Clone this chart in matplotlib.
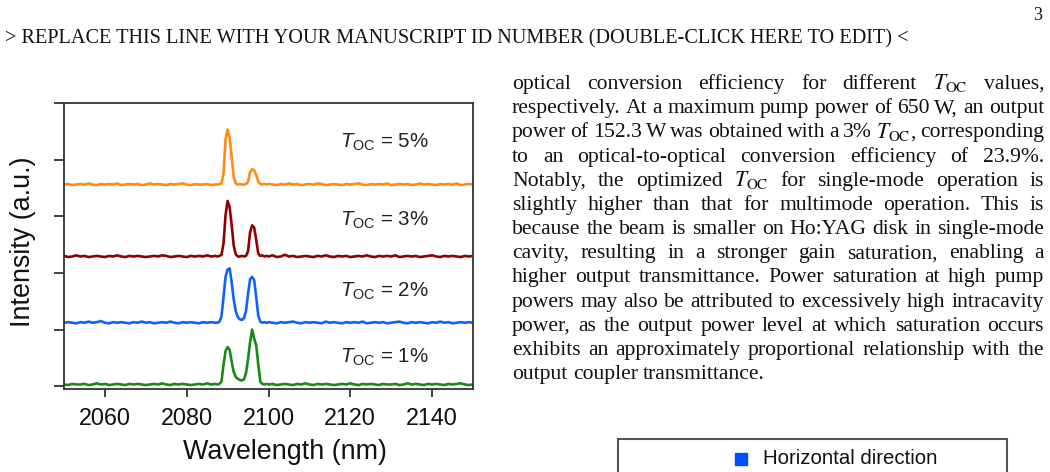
import matplotlib.pyplot as plt
from matplotlib.lines import Line2D
from matplotlib.patches import Rectangle

plt.rcParams['font.family'] = ['Liberation Sans', 'DejaVu Sans']
plt.rcParams['mathtext.fontset'] = 'custom'
plt.rcParams['mathtext.rm'] = 'Liberation Sans'
plt.rcParams['mathtext.it'] = 'Liberation Sans:italic'

# wavelength samples (nm): 1 nm on the flat baseline, 0.5 nm across the peaks
wl_left = [2050, 2051, 2052, 2053, 2054, 2055, 2056, 2057, 2058, 2059,
           2060, 2061, 2062, 2063, 2064, 2065, 2066, 2067, 2068, 2069,
           2070, 2071, 2072, 2073, 2074, 2075, 2076, 2077, 2078, 2079,
           2080, 2081, 2082, 2083, 2084, 2085, 2086, 2087]
wl_peak = [2087.5, 2088, 2088.5, 2089, 2089.5, 2090, 2090.5, 2091, 2091.5, 2092,
           2092.5, 2093, 2093.5, 2094, 2094.5, 2095, 2095.5, 2096, 2096.5, 2097,
           2097.5, 2098, 2098.5, 2099, 2099.5]
wl_right = [2100, 2101, 2102, 2103, 2104, 2105, 2106, 2107, 2108, 2109,
            2110, 2111, 2112, 2113, 2114, 2115, 2116, 2117, 2118, 2119,
            2120, 2121, 2122, 2123, 2124, 2125, 2126, 2127, 2128, 2129,
            2130, 2131, 2132, 2133, 2134, 2135, 2136, 2137, 2138, 2139,
            2140, 2141, 2142, 2143, 2144, 2145, 2146, 2147, 2148, 2149,
            2150]
wavelength = wl_left + wl_peak + wl_right

# intensity above each trace's own baseline (a.u.)
toc5_left = [0.01, 0.02, 0.00, 0.01, 0.02, 0.01, 0.03, 0.01, 0.00, 0.02,
             0.01, 0.02, 0.01, 0.03, 0.00, 0.01, 0.02, 0.01, 0.02, 0.00,
             0.01, 0.03, 0.01, 0.02, 0.01, 0.00, 0.02, 0.01, 0.02, 0.03,
             0.01, 0.00, 0.02, 0.01, 0.01, 0.02, 0.00, 0.01]
toc5_peak = [0.01, 0.02, 0.03, 0.20, 0.80, 0.98, 0.84, 0.50, 0.14, 0.03,
             0.01, 0.02, 0.01, 0.01, 0.02, 0.06, 0.23, 0.28, 0.26, 0.18,
             0.06, 0.02, 0.01, 0.02, 0.01]
toc5_right = [0.02, 0.01, 0.00, 0.02, 0.01, 0.03, 0.01, 0.02, 0.00, 0.01,
              0.02, 0.01, 0.03, 0.02, 0.00, 0.01, 0.02, 0.01, 0.00, 0.02,
              0.01, 0.02, 0.03, 0.01, 0.00, 0.02, 0.01, 0.02, 0.01, 0.03,
              0.00, 0.01, 0.02, 0.01, 0.02, 0.00, 0.01, 0.03, 0.01, 0.02,
              0.01, 0.00, 0.02, 0.01, 0.02, 0.01, 0.03, 0.00, 0.01, 0.02,
              0.01]

toc3_left = [0.02, 0.00, 0.01, 0.03, 0.01, 0.02, 0.00, 0.01, 0.02, 0.01,
             0.00, 0.02, 0.01, 0.03, 0.01, 0.00, 0.02, 0.01, 0.02, 0.01,
             0.00, 0.01, 0.02, 0.01, 0.03, 0.02, 0.00, 0.01, 0.02, 0.01,
             0.00, 0.02, 0.01, 0.02, 0.01, 0.03, 0.01, 0.02]
toc3_peak = [0.01, 0.02, 0.04, 0.24, 0.74, 0.99, 0.88, 0.56, 0.20, 0.05,
             0.01, 0.01, 0.02, 0.01, 0.02, 0.10, 0.44, 0.56, 0.52, 0.30,
             0.06, 0.02, 0.03, 0.01, 0.02]
toc3_right = [0.01, 0.03, 0.00, 0.01, 0.04, 0.01, 0.02, 0.00, 0.01, 0.02,
              0.01, 0.00, 0.02, 0.01, 0.03, 0.01, 0.00, 0.02, 0.01, 0.02,
              0.00, 0.01, 0.02, 0.01, 0.03, 0.01, 0.00, 0.02, 0.01, 0.02,
              0.01, 0.03, 0.00, 0.01, 0.02, 0.01, 0.02, 0.00, 0.01, 0.02,
              0.03, 0.01, 0.00, 0.02, 0.01, 0.02, 0.01, 0.00, 0.02, 0.01,
              0.02]

toc2_left = [0.01, 0.02, 0.01, 0.00, 0.02, 0.01, 0.03, 0.01, 0.02, 0.04,
             0.01, 0.00, 0.02, 0.01, 0.02, 0.01, 0.00, 0.02, 0.01, 0.03,
             0.01, 0.02, 0.00, 0.01, 0.02, 0.01, 0.03, 0.01, 0.00, 0.02,
             0.01, 0.02, 0.01, 0.00, 0.02, 0.01, 0.02, 0.01]
toc2_peak = [0.01, 0.03, 0.12, 0.46, 0.82, 0.95, 0.97, 0.72, 0.42, 0.21,
             0.11, 0.07, 0.06, 0.09, 0.22, 0.52, 0.78, 0.82, 0.76, 0.46,
             0.13, 0.03, 0.01, 0.02, 0.01]
toc2_right = [0.02, 0.01, 0.00, 0.02, 0.01, 0.02, 0.03, 0.01, 0.00, 0.02,
              0.01, 0.02, 0.01, 0.00, 0.03, 0.01, 0.02, 0.01, 0.00, 0.02,
              0.01, 0.02, 0.01, 0.03, 0.00, 0.01, 0.02, 0.01, 0.02, 0.00,
              0.01, 0.02, 0.03, 0.01, 0.00, 0.02, 0.01, 0.02, 0.01, 0.00,
              0.02, 0.01, 0.03, 0.01, 0.02, 0.00, 0.01, 0.02, 0.01, 0.02,
              0.01]

toc1_left = [0.01, 0.00, 0.02, 0.01, 0.01, 0.02, 0.00, 0.01, 0.03, 0.01,
             0.02, 0.00, 0.01, 0.02, 0.01, 0.00, 0.02, 0.01, 0.02, 0.01,
             0.00, 0.01, 0.02, 0.01, 0.03, 0.01, 0.00, 0.02, 0.01, 0.02,
             0.01, 0.00, 0.01, 0.02, 0.01, 0.03, 0.01, 0.02]
toc1_peak = [0.01, 0.02, 0.06, 0.36, 0.60, 0.67, 0.62, 0.41, 0.23, 0.14,
             0.11, 0.09, 0.08, 0.10, 0.21, 0.46, 0.76, 0.98, 0.82, 0.70,
             0.36, 0.06, 0.02, 0.01, 0.02]
toc1_right = [0.01, 0.02, 0.00, 0.01, 0.02, 0.01, 0.00, 0.02, 0.01, 0.03,
              0.01, 0.00, 0.02, 0.01, 0.02, 0.01, 0.00, 0.01, 0.02, 0.01,
              0.03, 0.01, 0.00, 0.02, 0.01, 0.02, 0.01, 0.00, 0.02, 0.01,
              0.01, 0.02, 0.00, 0.01, 0.03, 0.01, 0.02, 0.01, 0.00, 0.02,
              0.01, 0.02, 0.01, 0.00, 0.02, 0.01, 0.02, 0.03, 0.01, 0.00,
              0.01]

spectra = [toc1_left + toc1_peak + toc1_right,
           toc2_left + toc2_peak + toc2_right,
           toc3_left + toc3_peak + toc3_right,
           toc5_left + toc5_peak + toc5_right]
offsets = [0.02, 1.11, 2.28, 3.55]
labels = ['1%', '2%', '3%', '5%']
label_y = [0.41, 1.58, 2.83, 4.21]
colors = ['#178a17', '#0f62fe', '#8f0000', '#ff8c10']

x_ticks = [2060, 2080, 2100, 2120, 2140]

header = '> REPLACE THIS LINE WITH YOUR MANUSCRIPT ID NUMBER (DOUBLE-CLICK HERE TO EDIT) <'
para_lines = [
    'optical conversion efficiency for different $T_\\mathrm{OC}$ values,',
    'respectively. At a maximum pump power of 650 W, an output',
    'power of 152.3 W was obtained with a 3% $T_\\mathrm{OC}$, corresponding',
    'to an optical-to-optical conversion efficiency of 23.9%.',
    'Notably, the optimized $T_\\mathrm{OC}$ for single-mode operation is',
    'slightly higher than that for multimode operation. This is',
    'because the beam is smaller on Ho:YAG disk in single-mode',
    'cavity, resulting in a stronger gain saturation, enabling a',
    'higher output transmittance. Power saturation at high pump',
    'powers may also be attributed to excessively high intracavity',
    'power, as the output power level at which saturation occurs',
    'exhibits an approximately proportional relationship with the',
    'output coupler transmittance.',
]

W, H = 1050, 472
fig = plt.figure(figsize=(W / 100, H / 100), dpi=100)
ax = fig.add_axes([64 / W, 1 - 389 / H, (473 - 64) / W, (389 - 103) / H])

for spec, off, col in zip(spectra, offsets, colors):
    ax.plot(wavelength, [v + off for v in spec], color=col, lw=1.9)

for lab, y in zip(labels, label_y):
    ax.text(2117.4, y, '$T_\\mathrm{OC}$ = ' + lab, fontsize=14.8, color='#222222',
            va='baseline', ha='left')

ax.set_xlim(2050, 2150)
ax.set_ylim(-0.05, 5)
ax.set_xticks(x_ticks)
ax.set_yticks([0, 1, 2, 3, 4, 5])
ax.set_yticklabels([])
ax.tick_params(axis='y', direction='out', length=7, width=1.3, color='#333333')
ax.tick_params(axis='x', direction='out', length=6, width=1.3, color='#333333',
               labelsize=16.8, pad=7, labelcolor='#111111')
for s in ax.spines.values():
    s.set_color('#333333')
    s.set_linewidth(1.3)
ax.set_xlabel('Wavelength (nm)', fontsize=19.4, color='#111111')
ax.xaxis.set_label_coords((285 - 64) / (473 - 64), -(452 - 389) / (389 - 103))
ax.set_ylabel('Intensity (a.u.)', fontsize=19.4, color='#111111')
ax.yaxis.set_label_coords(-(64 - 23.5) / (473 - 64), (389 - 242) / (389 - 103))
ax.xaxis.label.set_va('center')
ax.yaxis.label.set_va('center')

# page text
fig.canvas.draw()
renderer = fig.canvas.get_renderer()

hdr = fig.text(5 / W, 1 - 43 / H, header, family='Liberation Serif', fontsize=12,
               va='baseline', color='#111111')
hw = hdr.get_window_extent(renderer).width
hdr.set_fontsize(12 * 900 / hw)
fig.text(1038 / W, 1 - 20 / H, '3', family='Liberation Serif', fontsize=13,
         ha='center', va='baseline', color='#111111')

L, R = 512, 1044
base0, step = 89, 24.17
psize = 15.6
for i, line in enumerate(para_lines):
    words = line.split(' ')
    y = 1 - (base0 + i * step) / H
    texts = [fig.text(0, y, w, family='Liberation Serif', fontsize=psize,
                      math_fontfamily='stix', va='baseline', color='#111111')
             for w in words]
    widths = [t.get_window_extent(renderer).width for t in texts]
    if i < len(para_lines) - 1:
        gap = (R - L - sum(widths)) / (len(words) - 1)
    else:
        gap = psize * 100 / 72 * 0.25
    x = L
    for t, w in zip(texts, widths):
        t.set_x(x / W)
        x += w + gap

# cropped legend box of the next figure
fig.add_artist(Rectangle((618 / W, -0.05), (1007 - 618) / W, 1 - 439 / H + 0.05,
                         transform=fig.transFigure, fill=False, ec='#555555', lw=1.5))
fig.add_artist(Line2D([741 / W], [1 - 459 / H], marker='s', ms=8.4, color='#0050ff',
                      ls='none', transform=fig.transFigure))
fig.text(763 / W, 1 - 459 / H, 'Horizontal direction', fontsize=14.7, va='center',
         color='#111111')

fig.savefig('out.png', dpi=100)
